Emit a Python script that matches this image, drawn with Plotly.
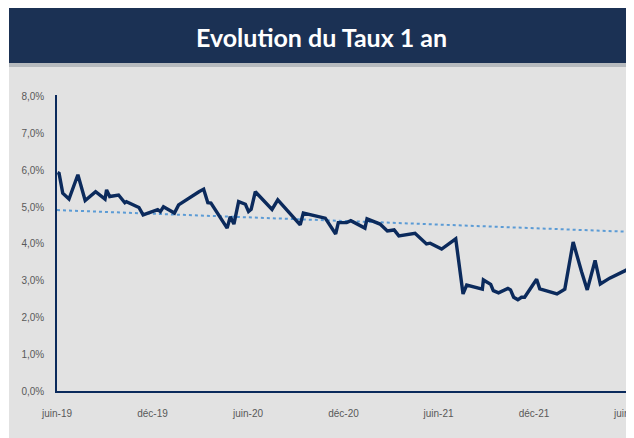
import plotly.graph_objects as go

# valeurs (taux 1 an, en %)
dates = [
    "2019-06-02", "2019-06-05", "2019-06-12", "2019-06-24", "2019-07-11", "2019-07-25",
    "2019-08-14", "2019-09-01", "2019-09-04", "2019-09-10", "2019-09-27", "2019-10-09",
    "2019-10-12", "2019-11-05", "2019-11-13", "2019-11-27", "2019-12-11", "2019-12-16",
    "2019-12-22", "2020-01-12", "2020-01-20", "2020-02-28", "2020-03-08", "2020-03-16",
    "2020-03-22", "2020-04-22", "2020-04-28", "2020-05-05", "2020-05-14", "2020-05-27",
    "2020-06-02", "2020-06-07", "2020-06-15", "2020-07-17", "2020-07-28", "2020-09-09",
    "2020-09-15", "2020-10-27", "2020-11-16", "2020-11-21", "2020-12-07", "2020-12-15",
    "2021-01-11", "2021-01-15", "2021-02-09", "2021-02-23", "2021-03-08", "2021-03-17",
    "2021-04-17", "2021-05-09", "2021-05-16", "2021-06-07", "2021-07-04", "2021-07-18",
    "2021-07-25", "2021-08-24", "2021-08-26", "2021-09-09", "2021-09-14", "2021-09-24",
    "2021-10-12", "2021-10-17", "2021-10-23", "2021-10-31", "2021-11-07", "2021-11-13",
    "2021-12-06", "2021-12-12", "2022-01-10", "2022-01-14", "2022-01-29", "2022-02-14",
    "2022-03-02", "2022-03-13", "2022-03-28", "2022-04-07", "2022-04-25", "2022-05-30",
]
taux = [
    5.94, 5.92, 5.38, 5.22, 5.88, 5.18,
    5.42, 5.22, 5.47, 5.29, 5.33, 5.12,
    5.15, 4.99, 4.79, 4.85, 4.93, 4.88,
    5.01, 4.84, 5.06, 5.42, 5.49, 5.12,
    5.11, 4.43, 4.74, 4.54, 5.15, 5.08,
    4.88, 4.94, 5.42, 4.94, 5.20, 4.52,
    4.84, 4.70, 4.27, 4.58, 4.58, 4.63,
    4.43, 4.68, 4.54, 4.35, 4.38, 4.22,
    4.29, 4.00, 4.02, 3.86, 4.14, 2.64,
    2.88, 2.77, 3.02, 2.90, 2.73, 2.67,
    2.79, 2.75, 2.55, 2.48, 2.55, 2.55,
    3.04, 2.78, 2.66, 2.64, 2.77, 4.05,
    3.25, 2.75, 3.55, 2.91, 3.07, 3.31,
]

# tendance linéaire (extrémités lues)
tendance_dates = ["2019-06-01", "2022-06-01"]
tendance_taux = [4.92, 4.33]

y_ticks = [0, 1, 2, 3, 4, 5, 6, 7, 8]
y_labels = ["0,0%", "1,0%", "2,0%", "3,0%", "4,0%", "5,0%", "6,0%", "7,0%", "8,0%"]
x_ticks = ["2019-06-01", "2019-12-01", "2020-06-01", "2020-12-01", "2021-06-01", "2021-12-01", "2022-06-01"]
x_labels = ["juin-19", "déc-19", "juin-20", "déc-20", "juin-21", "déc-21", "juin-22"]

titre = "Evolution du Taux 1 an"

# la page ajoute 8px de marge : on travaille en pixels de l'image puis on décale
OFF = 8
W, H = 634 - OFF, 438 - OFF
L, R, T, B = 57 - OFF, 629 - OFF, 95 - OFF, 391 - OFF   # zone de tracé


def px(x):
    return (x - OFF - L) / (R - L)


def py_(y):
    return (B - (y - OFF)) / (B - T)


navy = "#0b2a5c"
fig = go.Figure()

fig.add_trace(go.Scatter(
    x=tendance_dates, y=tendance_taux, mode="lines",
    line=dict(color="#5b9bd5", width=2, dash="dot"),
    hoverinfo="skip",
))
fig.add_trace(go.Scatter(
    x=dates, y=taux, mode="lines",
    line=dict(color=navy, width=3.4),
))

shapes = [
    # fond gris
    dict(type="rect", xref="paper", yref="paper", x0=px(9), x1=px(650),
         y0=py_(460), y1=py_(67), fillcolor="#e2e2e2", line=dict(width=0), layer="below"),
    # bandeau
    dict(type="rect", xref="paper", yref="paper", x0=px(9), x1=px(650),
         y0=py_(63), y1=py_(0), fillcolor="#1b3154", line=dict(width=0), layer="below"),
    dict(type="rect", xref="paper", yref="paper", x0=px(9), x1=px(650),
         y0=py_(67), y1=py_(63), fillcolor="#b6babe", line=dict(width=0), layer="below"),
]

fig.update_layout(
    width=W, height=H,
    margin=dict(l=L, r=W - R, t=T, b=H - B),
    paper_bgcolor="white",
    plot_bgcolor="rgba(0,0,0,0)",
    showlegend=False,
    shapes=shapes,
    annotations=[dict(
        text=titre, xref="paper", yref="paper", x=px(321), y=py_(37),
        xanchor="center", yanchor="middle", showarrow=False,
        font=dict(family="Lato", size=25, color="white", weight="bold"),
    )],
)

fig.update_xaxes(
    type="date", range=["2019-06-01", "2022-06-01"],
    tickvals=x_ticks, ticktext=x_labels,
    showgrid=False, zeroline=False, automargin=False,
    showline=True, linecolor=navy, linewidth=1.5,
    ticks="", ticklabelstandoff=12, ticklabeloverflow="allow",
    tickfont=dict(family="Liberation Sans Narrow, Arial Narrow, sans-serif", size=10, color="#595959"),
)
fig.update_yaxes(
    range=[0, 8.05],
    tickvals=y_ticks, ticktext=y_labels,
    showgrid=False, zeroline=False, automargin=False,
    showline=True, linecolor=navy, linewidth=1.5,
    ticks="", ticklabelstandoff=9,
    tickfont=dict(family="Liberation Sans Narrow, Arial Narrow, sans-serif", size=10, color="#595959"),
)

fig.write_html("out.html")
